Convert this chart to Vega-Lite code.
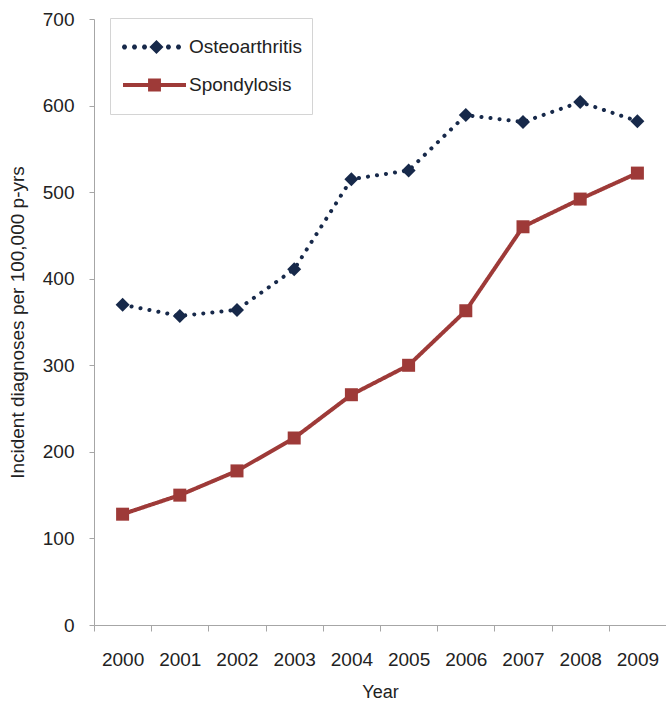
{
  "$schema": "https://vega.github.io/schema/vega-lite/v6.json",
  "width": 572,
  "height": 606,
  "autosize": {"type": "none"},
  "padding": {"left": 94, "top": 19, "right": 0, "bottom": 77},
  "background": "white",
  "config": {
    "view": {"stroke": null},
    "font": "Liberation Sans",
    "axis": {"domainColor": "#a6a6a6", "tickColor": "#a6a6a6", "labelColor": "#222222", "titleColor": "#222222", "labelFont": "Liberation Sans", "titleFont": "Liberation Sans", "titleFontWeight": "normal", "grid": false}
  },
  "data": {
    "values": [
      {"year": "2000", "series": "Osteoarthritis", "value": 370},
      {"year": "2001", "series": "Osteoarthritis", "value": 357},
      {"year": "2002", "series": "Osteoarthritis", "value": 364},
      {"year": "2003", "series": "Osteoarthritis", "value": 411},
      {"year": "2004", "series": "Osteoarthritis", "value": 515},
      {"year": "2005", "series": "Osteoarthritis", "value": 525},
      {"year": "2006", "series": "Osteoarthritis", "value": 589},
      {"year": "2007", "series": "Osteoarthritis", "value": 581},
      {"year": "2008", "series": "Osteoarthritis", "value": 604},
      {"year": "2009", "series": "Osteoarthritis", "value": 582},
      {"year": "2000", "series": "Spondylosis", "value": 128},
      {"year": "2001", "series": "Spondylosis", "value": 150},
      {"year": "2002", "series": "Spondylosis", "value": 178},
      {"year": "2003", "series": "Spondylosis", "value": 216},
      {"year": "2004", "series": "Spondylosis", "value": 266},
      {"year": "2005", "series": "Spondylosis", "value": 300},
      {"year": "2006", "series": "Spondylosis", "value": 363},
      {"year": "2007", "series": "Spondylosis", "value": 460},
      {"year": "2008", "series": "Spondylosis", "value": 492},
      {"year": "2009", "series": "Spondylosis", "value": 522}
    ]
  },
  "encoding": {
    "x": {
      "field": "year", "type": "ordinal",
      "scale": {"type": "band", "paddingInner": 0, "paddingOuter": 0},
      "axis": {"title": "Year", "labelAngle": 0, "labelFontSize": 19, "titleFontSize": 18, "tickBand": "extent", "tickSize": 6, "labelPadding": 19, "titlePadding": 14}
    },
    "y": {
      "field": "value", "type": "quantitative",
      "scale": {"domain": [0, 700], "nice": false},
      "axis": {"title": "Incident diagnoses per 100,000 p-yrs", "values": [0, 100, 200, 300, 400, 500, 600, 700], "labelFontSize": 19, "titleFontSize": 19, "tickSize": 5, "labelPadding": 15, "titlePadding": 15}
    }
  },
  "layer": [
    {
      "mark": {"type": "line", "strokeWidth": 4, "strokeCap": "round"},
      "encoding": {
        "color": {
          "field": "series", "type": "nominal",
          "scale": {"domain": ["Osteoarthritis", "Spondylosis"], "range": ["#17294a", "#9e3a38"]},
          "legend": {
            "title": null,
            "orient": "none",
            "legendX": 16,
            "legendY": -1,
            "padding": 10,
            "strokeColor": "#d4d4d4",
            "fillColor": "white",
            "labelFont": "Liberation Sans",
            "labelFontSize": 19,
            "labelColor": "#222222",
            "symbolSize": 1444,
            "symbolOffset": 15.5,
            "labelOffset": 15.5,
            "rowPadding": -4,
            "encode": {
              "symbols": {
                "update": {
                  "shape": {"signal": "datum.value === 'Osteoarthritis' ? 'M0,-0.974L0,0.974L0,-0.974ZM-1.705,0L-1.705,-0.052L-1.631,-0.126L-1.527,-0.126L-1.453,-0.052L-1.453,0.052L-1.527,0.126L-1.631,0.126L-1.705,0.052L-1.705,0L-1.179,0L-1.179,-0.052L-1.105,-0.126L-1.001,-0.126L-0.927,-0.052L-0.927,0.052L-1.001,0.126L-1.105,0.126L-1.179,0.052L-1.179,0L-0.652,0L-0.652,-0.052L-0.578,-0.126L-0.474,-0.126L-0.4,-0.052L-0.4,0.052L-0.474,0.126L-0.578,0.126L-0.652,0.052L-0.652,0L-0.268,0L0.103,-0.371L0.474,0L0.103,0.371L-0.268,0L0.608,0L0.608,-0.052L0.682,-0.126L0.786,-0.126L0.86,-0.052L0.86,0.052L0.786,0.126L0.682,0.126L0.608,0.052L0.608,0L1.137,0L1.137,-0.052L1.211,-0.126L1.315,-0.126L1.389,-0.052L1.389,0.052L1.315,0.126L1.211,0.126L1.137,0.052L1.137,0Z' : 'M0,-0.974L0,0.974L0,-0.974ZM-1.658,-0.105L-0.339,-0.105L-0.339,-0.339L0.339,-0.339L0.339,-0.105L1.658,-0.105L1.658,0.105L0.339,0.105L0.339,0.339L-0.339,0.339L-0.339,0.105L-1.658,0.105Z'"},
                  "size": {"value": 1444},
                  "strokeWidth": {"value": 0},
                  "strokeDash": {"value": [1, 0]},
                  "fill": {"signal": "datum.value === 'Osteoarthritis' ? '#17294a' : '#9e3a38'"},
                  "fillOpacity": {"value": 1},
                  "opacity": {"value": 1},
                  "stroke": {"value": "transparent"}
                }
              }
            }
          }
        },
        "strokeDash": {
          "field": "series", "type": "nominal",
          "scale": {"domain": ["Osteoarthritis", "Spondylosis"], "range": [[0.1, 9], [1, 0]]},
          "legend": null
        }
      }
    },
    {
      "transform": [{"filter": "datum.series === 'Osteoarthritis'"}],
      "mark": {"type": "point", "filled": true, "opacity": 1, "shape": "diamond", "size": 196},
      "encoding": {
        "color": {"field": "series", "type": "nominal", "legend": null}
      }
    },
    {
      "transform": [{"filter": "datum.series === 'Spondylosis'"}],
      "mark": {"type": "point", "filled": true, "opacity": 1, "shape": "square", "size": 169},
      "encoding": {
        "color": {"field": "series", "type": "nominal", "legend": null}
      }
    }
  ]
}
